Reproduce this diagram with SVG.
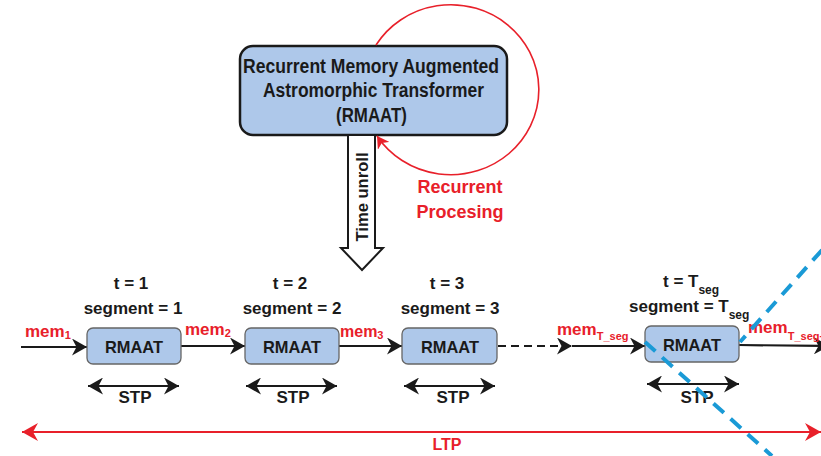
<svg xmlns="http://www.w3.org/2000/svg" width="821" height="456" viewBox="0 0 821 456">
<style>
  text { font-family: "Liberation Sans", Arial, sans-serif; font-weight: bold; }
  .blk { fill: #1a1a1a; }
  .red { fill: #e8202a; }
  .node { fill: #aec8ea; stroke: #666; stroke-width: 1.3; }
  .arr { stroke: #1a1a1a; stroke-width: 2.2; fill: none; }
  .lbl { font-size: 17px; text-anchor: middle; }
  .sub { font-size: 11px; }
</style>
<defs>
  <marker id="ah" markerUnits="userSpaceOnUse" markerWidth="16" markerHeight="17" refX="15" refY="8.5" orient="auto-start-reverse">
    <path d="M0,0 L15,8.5 L0,17 L4.5,8.5 z" fill="#1a1a1a"/>
  </marker>
  <marker id="rh" markerUnits="userSpaceOnUse" markerWidth="17" markerHeight="18" refX="16" refY="9" orient="auto-start-reverse">
    <path d="M0,0 L16,9 L0,18 L5,9 z" fill="#e8202a"/>
  </marker>
  <marker id="rc" markerUnits="userSpaceOnUse" markerWidth="14" markerHeight="14" refX="12" refY="7" orient="auto">
    <path d="M0,0 L12,7 L0,14 L3.5,7 z" fill="#e8202a"/>
  </marker>
</defs>

<g id="main">
  <rect x="240" y="46" width="267" height="89" rx="13" fill="#aec8ea" stroke="#1a1a1a" stroke-width="2.5"/>
  <text class="blk" x="243" y="73" font-size="19.5" textLength="256" lengthAdjust="spacingAndGlyphs">Recurrent Memory Augmented</text>
  <text class="blk" x="263" y="97" font-size="19.5" textLength="221" lengthAdjust="spacingAndGlyphs">Astromorphic Transformer</text>
  <text class="blk" x="336" y="122" font-size="19.5" textLength="71" lengthAdjust="spacingAndGlyphs">(RMAAT)</text>
</g>

<g id="connectors">
  <path d="M 376 45 A 88 85 0 1 1 377 136" fill="none" stroke="#e8202a" stroke-width="1.6" marker-end="url(#rc)"/>
  <path d="M348 135 L375 135 L375 248 L383 248 L362 270 L341 248 L348 248 Z" fill="#fff" stroke="#1a1a1a" stroke-width="2"/>
  <line class="arr" x1="21" y1="347" x2="87" y2="347" marker-end="url(#ah)"/>
  <line class="arr" x1="181" y1="346" x2="245" y2="346" marker-end="url(#ah)"/>
  <line class="arr" x1="339" y1="346" x2="402" y2="346" marker-end="url(#ah)"/>
  <line class="arr" x1="498" y1="346" x2="572" y2="346" stroke-dasharray="8 5" marker-end="url(#ah)"/>
  <line class="arr" x1="572" y1="346" x2="645" y2="346" marker-end="url(#ah)"/>
  <line class="arr" x1="739" y1="345" x2="829" y2="346" marker-end="url(#ah)"/>
  <line class="arr" x1="88" y1="386" x2="179" y2="386" marker-start="url(#ah)" marker-end="url(#ah)"/>
  <line class="arr" x1="246" y1="386" x2="337" y2="386" marker-start="url(#ah)" marker-end="url(#ah)"/>
  <line class="arr" x1="404" y1="386" x2="495" y2="386" marker-start="url(#ah)" marker-end="url(#ah)"/>
  <line class="arr" x1="647" y1="384" x2="739" y2="384" marker-start="url(#ah)" marker-end="url(#ah)"/>
  <line x1="22" y1="432" x2="821" y2="432" stroke="#e8202a" stroke-width="2.2" marker-start="url(#rh)" marker-end="url(#rh)"/>
</g>

<text class="blk" font-size="17" text-anchor="middle" transform="translate(368,197) rotate(-90)" textLength="89" lengthAdjust="spacingAndGlyphs">Time unroll</text>
<text class="red" x="460" y="193" font-size="18" text-anchor="middle">Recurrent</text>
<text class="red" x="460" y="218" font-size="18" text-anchor="middle">Procesing</text>

<g id="seg1">
  <rect class="node" x="87" y="328" width="94" height="36" rx="6"/>
  <text class="blk lbl" x="134" y="353" font-size="19" textLength="58" lengthAdjust="spacingAndGlyphs">RMAAT</text>
  <text class="blk lbl" x="131" y="289">t = 1</text>
  <text class="blk lbl" x="133" y="314">segment = 1</text>
  <text class="blk lbl" x="135" y="403" font-size="16">STP</text>
</g>
<g id="seg2">
  <rect class="node" x="245" y="328" width="94" height="36" rx="6"/>
  <text class="blk lbl" x="292" y="353" font-size="19" textLength="58" lengthAdjust="spacingAndGlyphs">RMAAT</text>
  <text class="blk lbl" x="290" y="289">t = 2</text>
  <text class="blk lbl" x="292" y="314">segment = 2</text>
  <text class="blk lbl" x="293" y="403" font-size="16">STP</text>
</g>
<g id="seg3">
  <rect class="node" x="402" y="328" width="95" height="36" rx="6"/>
  <text class="blk lbl" x="450" y="353" font-size="19" textLength="58" lengthAdjust="spacingAndGlyphs">RMAAT</text>
  <text class="blk lbl" x="447" y="289">t = 3</text>
  <text class="blk lbl" x="450" y="314">segment = 3</text>
  <text class="blk lbl" x="453" y="403" font-size="16">STP</text>
</g>
<g id="segT">
  <rect class="node" x="645" y="326" width="94" height="36" rx="6"/>
  <text class="blk lbl" x="692" y="351" font-size="19" textLength="58" lengthAdjust="spacingAndGlyphs">RMAAT</text>
  <text class="blk" x="663" y="287" font-size="17">t = T<tspan font-size="12" dy="7">seg</tspan></text>
  <text class="blk" x="629" y="312" font-size="17">segment = T<tspan font-size="12" dy="7">seg</tspan></text>
  <text class="blk lbl" x="697" y="403" font-size="16">STP</text>
</g>

<g id="mems">
  <text class="red" x="25" y="337" font-size="17">mem<tspan class="sub" dy="2">1</tspan></text>
  <text class="red" x="185" y="335" font-size="17">mem<tspan class="sub" dy="2">2</tspan></text>
  <text class="red" x="340" y="337" font-size="16">mem<tspan class="sub" dy="2">3</tspan></text>
  <text class="red" x="557" y="335" font-size="17">mem<tspan class="sub" dy="5">T_seg</tspan></text>
  <text class="red" x="748" y="333" font-size="17">mem<tspan class="sub" dy="7">T_seg+1</tspan></text>
</g>

<text class="red" x="447" y="450" font-size="16" text-anchor="middle">LTP</text>

<g id="cut" stroke="#1a9ad6" stroke-width="4" stroke-dasharray="14 9" fill="none">
  <line x1="822" y1="250" x2="740" y2="342"/>
  <line x1="645" y1="342" x2="772" y2="456"/>
</g>
</svg>
